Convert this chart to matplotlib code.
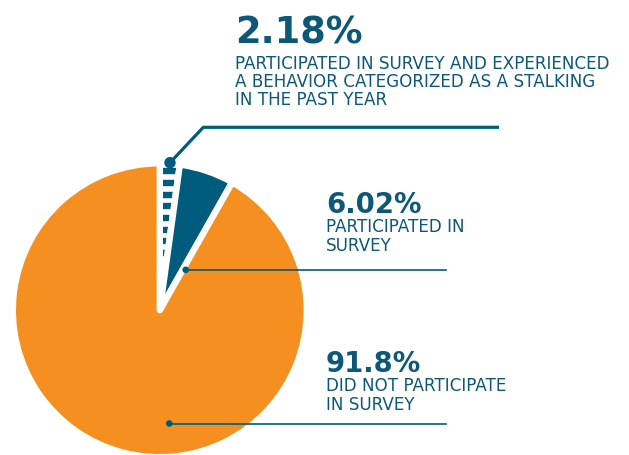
import matplotlib.pyplot as plt
from matplotlib.patches import Rectangle, Circle

# Survey breakdown (percent of all students)
shares = [2.18, 6.02, 91.8]
headlines = ['2.18%', '6.02%', '91.8%']
descriptions = [
    ['PARTICIPATED IN SURVEY AND EXPERIENCED',
     'A BEHAVIOR CATEGORIZED AS A STALKING',
     'IN THE PAST YEAR'],
    ['PARTICIPATED IN', 'SURVEY'],
    ['DID NOT PARTICIPATE', 'IN SURVEY'],
]

TEAL = '#005C7D'
ORANGE = '#F58F20'
TEXT = '#0D5877'

W, H = 629, 455
fig = plt.figure(figsize=(W / 100, H / 100), dpi=100)
ax = fig.add_axes([0, 0, 1, 1])

wedges, _ = ax.pie(
    shares,
    colors=['none', TEAL, ORANGE],
    startangle=90,
    counterclock=False,
    center=(159.8, 144.8),
    radius=147,
    explode=[0, 0, 0.03],
    wedgeprops=dict(edgecolor='white', linewidth=4.6, joinstyle='round'),
)

# striped fill for the smallest slice, drawn under the white slice border
stripe_h, stripe_gap = 5, 11.67
y = 455 - 180 + stripe_gap
while y > 0:
    bar = Rectangle((100, y - stripe_h), 120, stripe_h, color=TEAL, zorder=0.5)
    bar.set_clip_path(wedges[0])
    ax.add_patch(bar)
    y -= stripe_gap

# leader lines
ax.plot([170, 203.3, 499], [455 - 162.7, 455 - 127.3, 455 - 127.3],
        color=TEAL, lw=2.3, solid_capstyle='butt', zorder=3)
ax.add_patch(Circle((170, 455 - 162.7), 5, color=TEAL, zorder=4))
ax.plot([185.7, 445.7], [455 - 269.8, 455 - 269.8], color=TEAL, lw=1.2, zorder=3)
ax.add_patch(Circle((185.7, 455 - 269.8), 2.6, color=TEAL, zorder=4))
ax.plot([169.3, 445.7], [455 - 423.5, 455 - 423.5], color=TEAL, lw=1.2, zorder=3)
ax.add_patch(Circle((169.3, 455 - 423.5), 2.6, color=TEAL, zorder=4))

# labels
label_x = [235, 326, 326]
head_base = [43.3, 213.3, 371.7]
head_size = [26.5, 19.8, 19.8]
body_base = [[69.3, 87.3, 105.3], [232.3, 250.7], [390.7, 409.7]]
for i in range(3):
    ax.text(label_x[i], 455 - head_base[i], headlines[i], color=TEXT,
            fontsize=head_size[i], fontweight='bold', va='baseline', ha='left')
    for line, yb in zip(descriptions[i], body_base[i]):
        ax.text(label_x[i], 455 - yb, line, color=TEXT, fontsize=12.1,
                va='baseline', ha='left')

ax.set_xlim(0, W)
ax.set_ylim(0, H)
ax.set_aspect('equal')
ax.axis('off')

fig.savefig('out.png', dpi=100)
